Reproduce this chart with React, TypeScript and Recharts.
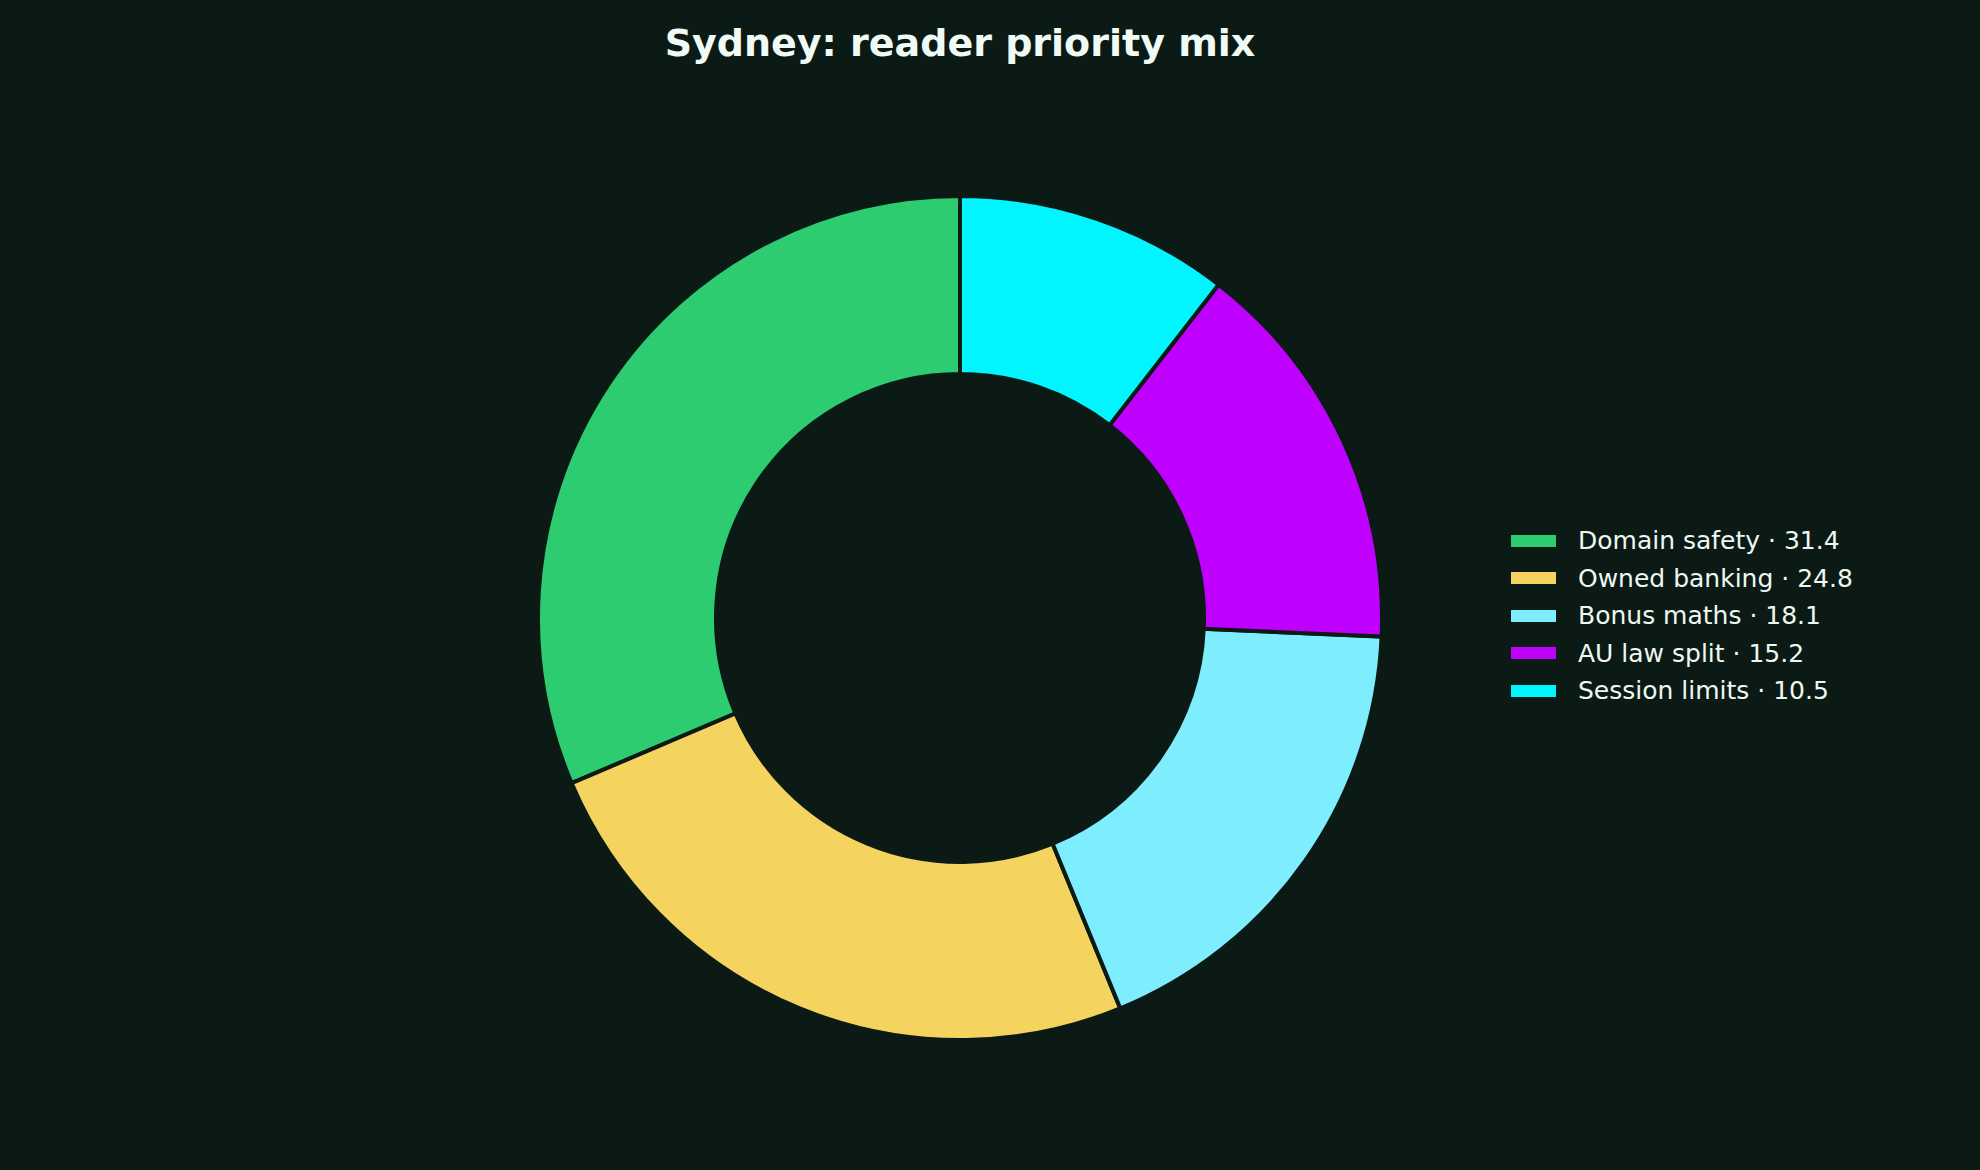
import { PieChart, Pie, Cell, Legend } from 'recharts'

const categories = ['Domain safety', 'Owned banking', 'Bonus maths', 'AU law split', 'Session limits']
const shares = [31.4, 24.8, 18.1, 15.2, 10.5]
const colors = ['#2ecc71', '#f4d35e', '#7eeeff', '#bf00ff', '#00f5ff']

const BG = '#0c1a16'
const TEXT = '#eef8f2'

const data = categories.map((name, i) => ({ name, value: shares[i] }))

function LegendBox() {
  return (
    <div style={{ fontFamily: '"DejaVu Sans", sans-serif', fontSize: 25, color: TEXT }}>
      {data.map((d, i) => (
        <div key={d.name} style={{ display: 'flex', alignItems: 'center', height: 37.5 }}>
          <span style={{ width: 45, height: 12, background: colors[i], marginRight: 22 }} />
          <span>{d.name} · {d.value.toFixed(1)}</span>
        </div>
      ))}
    </div>
  )
}

export default function App() {
  return (
    <div style={{ position: 'fixed', left: 0, top: 0, width: 1980, height: 1170, background: BG }}>
      <div
        style={{
          position: 'absolute',
          top: 19,
          left: 0,
          width: 1920,
          textAlign: 'center',
          fontFamily: '"DejaVu Sans", sans-serif',
          fontWeight: 'bold',
          fontSize: 38,
          color: '#f0fbf5',
          lineHeight: '48px',
        }}
      >
        Sydney: reader priority mix
      </div>
      <PieChart
        width={1980}
        height={1170}
        margin={{ top: 0, right: 0, bottom: 0, left: 0 }}
        style={{ position: 'absolute', left: 0, top: 0 }}
      >
        <Pie
          data={data}
          dataKey="value"
          nameKey="name"
          cx={960}
          cy={618}
          innerRadius={244}
          outerRadius={422}
          startAngle={90}
          endAngle={450}
          stroke={BG}
          strokeWidth={4}
          isAnimationActive={false}
        >
          {data.map((d, i) => (
            <Cell key={d.name} fill={colors[i]} />
          ))}
        </Pie>
        <Legend
          layout="vertical"
          verticalAlign="middle"
          align="right"
          content={() => <LegendBox />}
          wrapperStyle={{ left: 1511, top: 522, width: 420 }}
        />
      </PieChart>
    </div>
  )
}
